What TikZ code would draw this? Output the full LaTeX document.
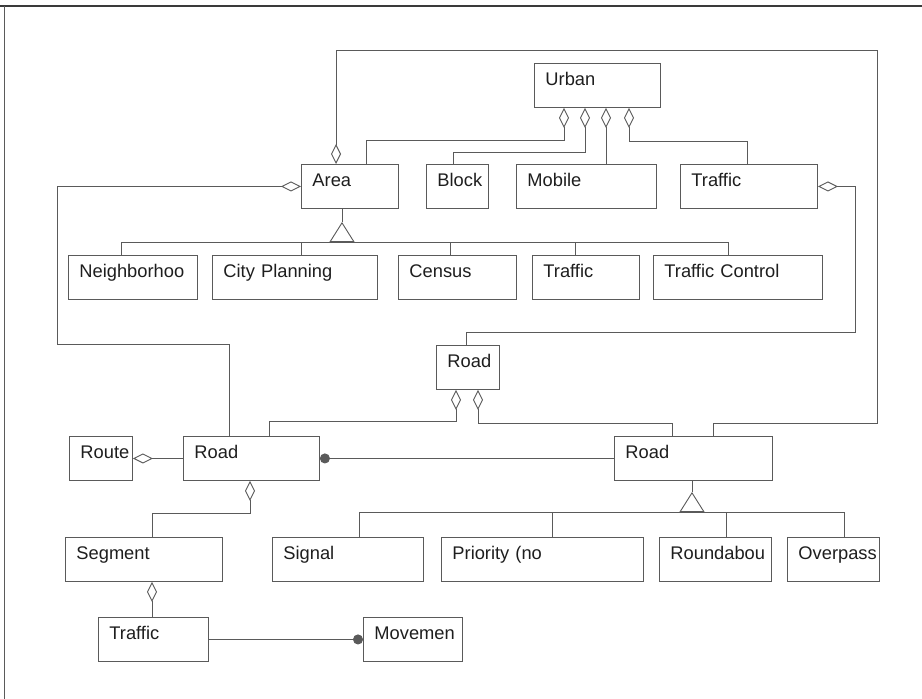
\documentclass[tikz,border=0pt]{standalone}
\usepackage{fontspec}
\setmainfont{Liberation Sans}
\usetikzlibrary{arrows.meta}
\definecolor{linec}{HTML}{5A5A5A}
\definecolor{textc}{HTML}{1E1E1E}
\definecolor{framec}{HTML}{3A3A3A}
\begin{document}
\begin{tikzpicture}[x=1pt,y=-1pt,
  box/.style={draw=linec, line width=0.9pt, fill=white, anchor=north west,
    inner xsep=11pt, inner ysep=0pt, text height=22.5pt, text depth=21.5pt,
    align=left, text=textc, font=\fontsize{18.3pt}{20pt}\selectfont, text width=#1},
  conn/.style={draw=linec, line width=0.9pt},
  aggr/.style={conn, {Diamond[open,length=20pt,width=10pt]}-},
  gen/.style={conn, -{Triangle[open,length=20pt,width=25pt]}},
  dotend/.style={conn, -{Circle[length=10pt]}},
  dotstart/.style={conn, {Circle[length=10pt]}-}
]
\useasboundingbox (0,0) rectangle (922,699);
\fill[white] (0,0) rectangle (922,699);
% frame
\draw[framec, line width=2pt] (0,6) -- (922,6);
\draw[linec, line width=0.9pt] (4,6) -- (4,699);

% boxes
\node[box=104pt] (urban) at (534,63) {\mbox{Urban}};
\node[box=75pt] (area) at (301,164) {\mbox{Area}};
\node[box=40pt] (block) at (426,164) {\mbox{Block}};
\node[box=118pt] (mobile) at (516,164) {\mbox{Mobile}};
\node[box=115pt] (traffictop) at (680,164) {\mbox{Traffic}};
\node[box=107pt] (neigh) at (68,255) {\mbox{Neighborhoo}};
\node[box=143pt] (city) at (212,255) {\mbox{City Planning}};
\node[box=96pt] (census) at (398,255) {\mbox{Census}};
\node[box=85pt] (trafficmid) at (532,255) {\mbox{Traffic}};
\node[box=147pt] (tcontrol) at (653,255) {\mbox{Traffic Control}};
\node[box=41pt] (roadc) at (436,345) {\mbox{Road}};
\node[box=41pt] (route) at (69,436) {\mbox{Route}};
\node[box=114pt] (roadl) at (183,436) {\mbox{Road}};
\node[box=136pt] (roadr) at (614,436) {\mbox{Road}};
\node[box=135pt] (segment) at (65,537) {\mbox{Segment}};
\node[box=129pt] (signal) at (272,537) {\mbox{Signal}};
\node[box=180pt] (priority) at (441,537) {\mbox{Priority (no}};
\node[box=90pt] (roundabou) at (659,537) {\mbox{Roundabou}};
\node[box=70pt] (overpass) at (787,537) {\mbox{Overpass}};
\node[box=88pt] (trafficb) at (98,617) {\mbox{Traffic}};
\node[box=77pt] (movemen) at (363,617) {\mbox{Movemen}};

% helper coordinates
\coordinate (loopA) at (877,50);
\coordinate (loopB) at (877,423);
\coordinate (la) at (57,344);
\coordinate (tb) at (855,332);
\coordinate (apexA) at (342,222);
\coordinate (barA) at (342,242);
\coordinate (apexB) at (692,492);
\coordinate (barB) at (692,512);

% Urban aggregations
\draw[aggr] ([xshift=30pt]urban.south west) -- ++(0,33) -| ([xshift=65pt]area.north west);
\draw[aggr] ([xshift=51pt]urban.south west) -- ++(0,45) -| ([xshift=27pt]block.north west);
\draw[aggr] ([xshift=72pt]urban.south west) -- ([xshift=90pt]mobile.north west);
\draw[aggr] ([xshift=95pt]urban.south west) -- ++(0,34) -| ([xshift=67pt]traffictop.north west);

% Area loops
\draw[aggr] ([xshift=35pt]area.north west) |- (loopA) -- (loopB) -| ([xshift=99pt]roadr.north west);
\draw[aggr] (area.west) -| (la) -| ([xshift=46pt]roadl.north west);
\draw[aggr] (traffictop.east) -| (tb) -| ([xshift=30pt]roadc.north west);

% Area generalization
\draw[conn] ([xshift=41pt]area.south west) -- (apexA);
\draw[gen] (barA) -- (apexA);
\draw[conn] ([xshift=53pt]neigh.north west) |- (barA);
\draw[conn] ([xshift=89pt]city.north west) |- (barA);
\draw[conn] ([xshift=52pt]census.north west) |- (barA);
\draw[conn] ([xshift=43pt]trafficmid.north west) |- (barA);
\draw[conn] ([xshift=75pt]tcontrol.north west) |- (barA);

% Road center aggregations
\draw[aggr] ([xshift=20pt]roadc.south west) -- ++(0,32) -| ([xshift=86pt]roadl.north west);
\draw[aggr] ([xshift=42pt]roadc.south west) -- ++(0,34) -| ([xshift=58pt]roadr.north west);

% Route, Road left
\draw[aggr] (route.east) -- (roadl.west);
\draw[dotstart] (roadl.east) -- (roadr.west);
\draw[aggr] ([xshift=67pt]roadl.south west) -- ++(0,33) -| ([xshift=87pt]segment.north west);
\draw[aggr] ([xshift=87pt]segment.south west) -- ([xshift=54pt]trafficb.north west);
\draw[dotend] (trafficb.east) -- (movemen.west);

% Road right generalization
\draw[conn] ([xshift=78pt]roadr.south west) -- (apexB);
\draw[gen] (barB) -- (apexB);
\draw[conn] ([xshift=87pt]signal.north west) |- (barB);
\draw[conn] ([xshift=111pt]priority.north west) |- (barB);
\draw[conn] ([xshift=67pt]roundabou.north west) |- (barB);
\draw[conn] ([xshift=57pt]overpass.north west) |- (barB);
\end{tikzpicture}
\end{document}
